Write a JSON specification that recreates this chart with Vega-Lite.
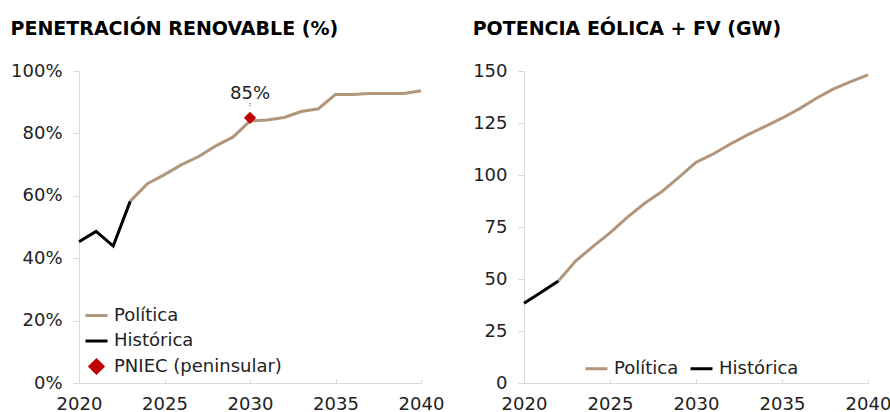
{
  "$schema": "https://vega.github.io/schema/vega-lite/v6.json",
  "background": "white",
  "padding": {"left": 10, "top": 20, "right": 5, "bottom": 0},
  "spacing": 103,
  "bounds": "flush",
  "config": {
    "view": {"stroke": null},
    "font": "DejaVu Sans",
    "axis": {
      "grid": false,
      "domainColor": "#d9d9d9",
      "tickColor": "#d9d9d9",
      "labelFont": "DejaVu Sans",
      "labelFontSize": 18,
      "labelColor": "#222222",
      "labelFlush": false,
      "title": null
    },
    "legend": {
      "labelFont": "DejaVu Sans",
      "labelFontSize": 18,
      "labelColor": "#222222",
      "labelLimit": 400,
      "title": null,
      "padding": 0
    },
    "title": {
      "font": "DejaVu Sans",
      "fontSize": 19,
      "fontWeight": "bold",
      "color": "#000000",
      "anchor": "start",
      "frame": "bounds",
      "offset": 23
    }
  },
  "datasets": {
    "pen": [
      {"year": 2020, "value": 0.453, "series": "Histórica"},
      {"year": 2021, "value": 0.486, "series": "Histórica"},
      {"year": 2022, "value": 0.439, "series": "Histórica"},
      {"year": 2023, "value": 0.583, "series": "Histórica"},
      {"year": 2023, "value": 0.583, "series": "Política"},
      {"year": 2024, "value": 0.639, "series": "Política"},
      {"year": 2025, "value": 0.668, "series": "Política"},
      {"year": 2026, "value": 0.700, "series": "Política"},
      {"year": 2027, "value": 0.726, "series": "Política"},
      {"year": 2028, "value": 0.760, "series": "Política"},
      {"year": 2029, "value": 0.788, "series": "Política"},
      {"year": 2030, "value": 0.840, "series": "Política"},
      {"year": 2031, "value": 0.843, "series": "Política"},
      {"year": 2032, "value": 0.851, "series": "Política"},
      {"year": 2033, "value": 0.870, "series": "Política"},
      {"year": 2034, "value": 0.879, "series": "Política"},
      {"year": 2035, "value": 0.925, "series": "Política"},
      {"year": 2036, "value": 0.925, "series": "Política"},
      {"year": 2037, "value": 0.928, "series": "Política"},
      {"year": 2038, "value": 0.928, "series": "Política"},
      {"year": 2039, "value": 0.928, "series": "Política"},
      {"year": 2040, "value": 0.937, "series": "Política"}
    ],
    "pniec": [
      {"year": 2030, "value": 0.85, "series": "PNIEC (peninsular)", "label": "85%", "lead_lo": 0.888, "lead_hi": 0.898}
    ],
    "gw": [
      {"year": 2020, "value": 38.3, "series": "Histórica"},
      {"year": 2021, "value": 43.6, "series": "Histórica"},
      {"year": 2022, "value": 49.0, "series": "Histórica"},
      {"year": 2022, "value": 49.0, "series": "Política"},
      {"year": 2023, "value": 58.6, "series": "Política"},
      {"year": 2024, "value": 65.6, "series": "Política"},
      {"year": 2025, "value": 72.2, "series": "Política"},
      {"year": 2026, "value": 79.6, "series": "Política"},
      {"year": 2027, "value": 86.3, "series": "Política"},
      {"year": 2028, "value": 91.9, "series": "Política"},
      {"year": 2029, "value": 98.9, "series": "Política"},
      {"year": 2030, "value": 106.1, "series": "Política"},
      {"year": 2031, "value": 110.1, "series": "Política"},
      {"year": 2032, "value": 114.9, "series": "Política"},
      {"year": 2033, "value": 119.3, "series": "Política"},
      {"year": 2034, "value": 123.3, "series": "Política"},
      {"year": 2035, "value": 127.3, "series": "Política"},
      {"year": 2036, "value": 131.8, "series": "Política"},
      {"year": 2037, "value": 136.9, "series": "Política"},
      {"year": 2038, "value": 141.4, "series": "Política"},
      {"year": 2039, "value": 144.9, "series": "Política"},
      {"year": 2040, "value": 148.1, "series": "Política"}
    ]
  },
  "resolve": {
    "scale": {"color": "independent", "x": "independent", "y": "independent"},
    "legend": {"color": "independent"}
  },
  "hconcat": [
    {
      "width": 342,
      "height": 312,
      "title": "PENETRACIÓN RENOVABLE (%)",
      "layer": [
        {
          "data": {"name": "pen"},
          "mark": {"type": "line", "strokeWidth": 3},
          "encoding": {
            "x": {"field": "year", "type": "quantitative",
              "scale": {"domain": [2020, 2040], "nice": false, "zero": false},
              "axis": {"values": [2020, 2025, 2030, 2035, 2040], "format": "d", "tickSize": -4, "labelPadding": 16}},
            "y": {"field": "value", "type": "quantitative",
              "scale": {"domain": [0, 1], "nice": false},
              "axis": {"values": [0, 0.2, 0.4, 0.6, 0.8, 1], "format": ".0%", "tickSize": 6, "labelPadding": 11}},
            "color": {"field": "series", "type": "nominal",
              "scale": {"domain": ["Política", "Histórica", "PNIEC (peninsular)"], "range": ["#B0967B", "#000000", "#C00000"]},
              "legend": {
                "orient": "none", "legendX": 5, "legendY": 232, "direction": "vertical",
                "symbolSize": 484, "symbolStrokeWidth": 3, "labelOffset": 5, "rowPadding": 3.5,
                "encode": {"symbols": {"update": {
                  "shape": {"signal": "datum.value === 'PNIEC (peninsular)' ? 'diamond' : 'stroke'"},
                  "size": {"signal": "datum.value === 'PNIEC (peninsular)' ? 169 : 484"},
                  "fill": {"signal": "datum.value === 'PNIEC (peninsular)' ? '#C00000' : 'transparent'"},
                  "stroke": {"signal": "datum.value === 'PNIEC (peninsular)' ? 'transparent' : (datum.value === 'Política' ? '#B0967B' : '#000000')"},
                  "strokeWidth": {"value": 3},
                  "opacity": {"value": 1}
                }}}
              }},
            "detail": {"field": "series"}
          }
        },
        {
          "data": {"name": "pniec"},
          "mark": {"type": "rule", "strokeWidth": 1, "color": "#444444", "strokeDash": [1, 1]},
          "encoding": {
            "x": {"field": "year", "type": "quantitative"},
            "y": {"field": "lead_lo", "type": "quantitative"},
            "y2": {"field": "lead_hi"}
          }
        },
        {
          "data": {"name": "pniec"},
          "mark": {"type": "point", "shape": "diamond", "filled": true, "size": 150, "opacity": 1},
          "encoding": {
            "x": {"field": "year", "type": "quantitative"},
            "y": {"field": "value", "type": "quantitative"},
            "color": {"field": "series", "type": "nominal"}
          }
        },
        {
          "data": {"name": "pniec"},
          "mark": {"type": "text", "dy": -24, "fontSize": 18, "color": "#222222", "font": "DejaVu Sans"},
          "encoding": {
            "x": {"field": "year", "type": "quantitative"},
            "y": {"field": "value", "type": "quantitative"},
            "text": {"field": "label"}
          }
        }
      ]
    },
    {
      "width": 344,
      "height": 312,
      "title": "POTENCIA EÓLICA + FV (GW)",
      "data": {"name": "gw"},
      "mark": {"type": "line", "strokeWidth": 3},
      "encoding": {
        "x": {"field": "year", "type": "quantitative",
          "scale": {"domain": [2020, 2040], "nice": false, "zero": false},
          "axis": {"values": [2020, 2025, 2030, 2035, 2040], "format": "d", "tickSize": -4, "labelPadding": 16}},
        "y": {"field": "value", "type": "quantitative",
          "scale": {"domain": [0, 150], "nice": false},
          "axis": {"values": [0, 25, 50, 75, 100, 125, 150], "tickSize": 6, "labelPadding": 11}},
        "color": {"field": "series", "type": "nominal",
          "scale": {"domain": ["Política", "Histórica"], "range": ["#B0967B", "#000000"]},
          "legend": {
            "orient": "none", "legendX": 60, "legendY": 285, "direction": "horizontal",
            "symbolSize": 484, "symbolStrokeWidth": 3, "labelOffset": 5, "columnPadding": 5,
            "symbolType": "stroke"
          }},
        "detail": {"field": "series"}
      }
    }
  ]
}
